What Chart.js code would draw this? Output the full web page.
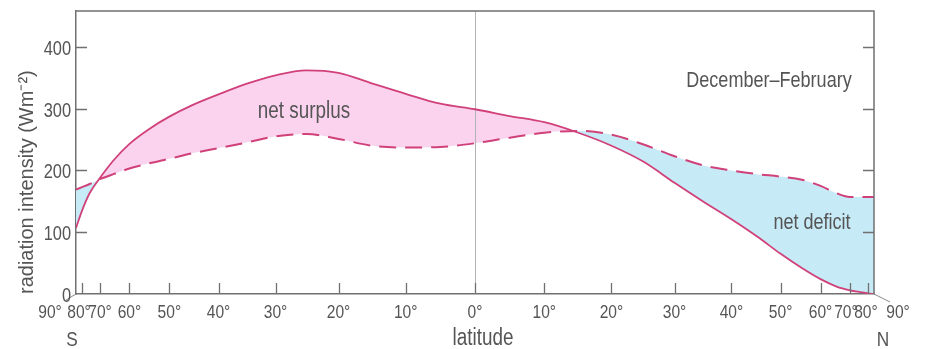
<!DOCTYPE html>
<html>
<head>
<meta charset="utf-8">
<script src="https://cdn.jsdelivr.net/npm/chart.js@4/dist/chart.umd.min.js"></script>
<style>
  html, body { margin: 0; padding: 0; background: #ffffff; }
  #wrap { width: 927px; height: 349px; position: relative; }
</style>
</head>
<body>
<div id="wrap"><canvas id="chart"></canvas></div>
<script>
// Latitude in degrees (south negative) at which both curves are sampled
const latitudes = [-90, -80, -75, -70, -65, -60, -55, -50, -45, -40, -35, -30, -25, -20, -15, -10, -5,
                   0, 5, 10, 15, 20, 25, 30, 35, 40, 45, 50, 55, 60, 65, 70, 75, 80, 90];

// Absorbed solar radiation, December–February (W m-2) – solid curve
const absorbedSolar = [107, 135, 163, 188, 216, 243, 266, 287, 306, 323, 340, 354, 362, 358, 341, 324, 308,
                       299, 288, 278, 261, 240, 214, 180, 149, 121, 93, 65, 42, 24, 12, 6, 3, 1, 0];

// Outgoing longwave radiation (W m-2) – dashed curve
const outgoingLongwave = [169, 173, 178, 186, 194, 203, 211, 219, 228, 236, 245, 255, 259, 251, 240, 237, 238,
                          244, 253, 261, 264, 258, 242, 223, 208, 200, 194, 190, 185, 175, 163, 157, 157, 157, 157];

// Latitude axis ticks and their labels
const xTickLatitudes = [-80, -70, -60, -50, -40, -30, -20, -10, 0, 10, 20, 30, 40, 50, 60, 70, 80];
const xTickLabels = ['80°', '70°', '60°', '50°', '40°', '30°', '20°', '10°', '0°',
                     '10°', '20°', '30°', '40°', '50°', '60°', '70°', '80°'];
const yTickValues = [0, 100, 200, 300, 400];
const yTickLabels = ['0', '100', '200', '300', '400'];

const FONT = "'Liberation Sans', Arial, sans-serif";
const NARROW = 0.82;            // horizontal squeeze giving a narrow grotesque face
const INK = '#555555';
const AXIS = '#707070';
const CURVE = '#d0417a';
const SURPLUS = '#fbd3ee';
const DEFICIT = '#c6eaf6';

// The latitude axis is area-weighted: positions follow sin(latitude)
const toX = lat => Math.sin(lat * Math.PI / 180);

// labels near the poles crowd together; ease them apart a little
function labelNudge(lat) {
  if (lat === -80) return -3;
  if (lat === 70) return -4;
  if (lat === 80) return -2;
  return 0;
}

const solarPoints = latitudes.map((lat, i) => ({ x: toX(lat), y: absorbedSolar[i] }));
const longwavePoints = latitudes.map((lat, i) => ({ x: toX(lat), y: outgoingLongwave[i] }));

// condensed text drawn on the chart canvas
function text(ctx, str, x, y, size, align) {
  ctx.save();
  ctx.translate(x, y);
  ctx.scale(NARROW, 1);
  ctx.font = size + 'px ' + FONT;
  ctx.fillStyle = INK;
  ctx.textAlign = align || 'center';
  ctx.textBaseline = 'alphabetic';
  ctx.fillText(str, 0, 0);
  ctx.restore();
}

const decorations = {
  id: 'decorations',
  beforeDatasetsDraw(chart) {
    // thin equator line, under the curves but over the shading
    const { ctx, chartArea: a, scales: { x } } = chart;
    const px = Math.round(x.getPixelForValue(0)) + 0.5;
    ctx.save();
    ctx.strokeStyle = '#b3b3b3';
    ctx.lineWidth = 1;
    ctx.beginPath();
    ctx.moveTo(px, a.top);
    ctx.lineTo(px, a.bottom);
    ctx.stroke();
    ctx.restore();
  },
  afterDatasetsDraw(chart) {
    const { ctx, chartArea: a, scales: { x, y } } = chart;
    ctx.save();
    ctx.strokeStyle = AXIS;
    ctx.lineWidth = 1.5;
    ctx.beginPath();
    ctx.moveTo(a.left, a.top);
    ctx.lineTo(a.right, a.top);
    ctx.lineTo(a.right, a.bottom);
    ctx.stroke();

    // inward tick marks on both vertical sides and along the latitude axis
    ctx.lineWidth = 1.3;
    ctx.beginPath();
    y.ticks.forEach(t => {
      if (t.value === 0) return;
      const py = Math.round(y.getPixelForValue(t.value)) + 0.5;
      ctx.moveTo(a.left, py); ctx.lineTo(a.left + 11, py);
      ctx.moveTo(a.right, py); ctx.lineTo(a.right - 11, py);
    });
    x.ticks.forEach(t => {
      const px = Math.round(x.getPixelForValue(t.value)) + 0.5;
      ctx.moveTo(px, a.bottom); ctx.lineTo(px, a.bottom - 11);
    });
    ctx.stroke();

    // short leaders from the corners to the pole labels
    ctx.lineWidth = 1;
    ctx.strokeStyle = '#8a8a8a';
    ctx.beginPath();
    ctx.moveTo(a.left, a.bottom); ctx.lineTo(a.left - 10, a.bottom + 6);
    ctx.moveTo(a.right, a.bottom); ctx.lineTo(a.right + 16, a.bottom + 8);
    ctx.stroke();

    // tick labels
    y.ticks.forEach((t, i) => {
      text(ctx, yTickLabels[i], a.left - 5, y.getPixelForValue(t.value) + 8, 20, 'right');
    });
    x.ticks.forEach((t, i) => {
      const px = x.getPixelForValue(t.value) + labelNudge(xTickLatitudes[i]);
      text(ctx, xTickLabels[i], px, a.bottom + 24, 19);
    });

    // pole labels, hemispheres and axis title
    text(ctx, '90°', x.getPixelForValue(-1) - 26, a.bottom + 24, 19);
    text(ctx, '90°', x.getPixelForValue(1) + 24, a.bottom + 24, 19);
    text(ctx, 'S', a.left - 4, a.bottom + 52, 21);
    text(ctx, 'N', a.right + 9, a.bottom + 52, 21);
    text(ctx, 'latitude', x.getPixelForValue(0) + 8, a.bottom + 51, 23);

    // annotations inside the plot
    text(ctx, 'net surplus', a.left + 228, a.top + 107, 23);
    text(ctx, 'net deficit', a.left + 736, a.top + 218, 22);
    text(ctx, 'December–February', a.left + 693, a.top + 76, 22);
    ctx.restore();
  }
};

new Chart(document.getElementById('chart'), {
  type: 'line',
  data: {
    datasets: [
      {
        label: 'absorbed solar radiation',
        data: solarPoints,
        borderColor: CURVE,
        borderWidth: 1.8,
        pointRadius: 0,
        cubicInterpolationMode: 'monotone',
        fill: { target: 1, above: SURPLUS, below: DEFICIT }
      },
      {
        label: 'outgoing longwave radiation',
        data: longwavePoints,
        borderColor: CURVE,
        borderWidth: 2,
        borderDash: [17, 9],
        pointRadius: 0,
        cubicInterpolationMode: 'monotone',
        fill: false
      }
    ]
  },
  options: {
    responsive: true,
    maintainAspectRatio: false,
    animation: false,
    devicePixelRatio: 1,
    layout: { padding: { top: 11, right: 53, left: 0, bottom: 0 } },
    plugins: {
      legend: { display: false },
      tooltip: { enabled: false },
      filler: { drawTime: 'beforeDatasetsDraw' }
    },
    scales: {
      x: {
        type: 'linear',
        min: -1,
        max: 1,
        afterBuildTicks: scale => { scale.ticks = xTickLatitudes.map(l => ({ value: toX(l) })); },
        afterFit: scale => { scale.height = 55; },
        grid: { display: false, drawTicks: false },
        border: { display: true, color: AXIS, width: 1.5 },
        ticks: { display: false, autoSkip: false }
      },
      y: {
        type: 'linear',
        min: 0,
        max: 458,
        afterBuildTicks: scale => { scale.ticks = yTickValues.map(v => ({ value: v })); },
        afterFit: scale => { scale.width = 76; },
        grid: { display: false, drawTicks: false },
        border: { display: true, color: AXIS, width: 1.5 },
        ticks: { display: false },
        title: {
          display: true,
          text: 'radiation intensity (Wm⁻²)',
          align: 'start',
          color: INK,
          font: { family: FONT, size: 20 },
          padding: { top: 15, bottom: 0 }
        }
      }
    }
  },
  plugins: [decorations]
});
</script>
</body>
</html>
